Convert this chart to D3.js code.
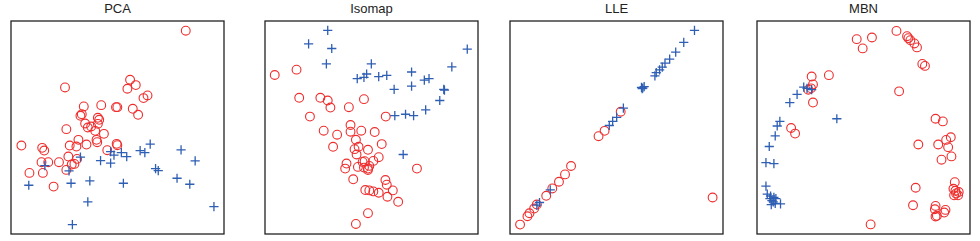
<!DOCTYPE html>
<html>
<head>
<meta charset="utf-8">
<script src="https://cdn.jsdelivr.net/npm/d3@7"></script>
<style>
  body { margin: 0; background: #fff; }
  svg { display: block; }
</style>
</head>
<body>
<div id="chart"></div>
<script>
// embedding coordinates, [x, y] per sample (arbitrary units)
const titles = ["PCA", "Isomap", "LLE", "MBN"];

const pcaCircle = [[55.4,62.7],[38.8,48.0],[38.0,45.3],[40.5,46.4],[19.4,45.7],[44.0,43.3],[42.8,42.5],[25.0,40.0],[30.2,40.4],[34.6,39.8],[35.0,39.8],[39.6,39.3],[41.2,37.5],[24.0,37.2],[24.4,37.7],[29.2,36.6],[29.6,36.0],[25.4,34.9],[26.2,33.7],[27.2,34.0],[29.2,34.8],[19.8,33.2],[28.4,32.7],[31.0,31.8],[23.4,30.0],[28.8,30.0],[29.0,29.3],[25.8,28.6],[20.8,28.3],[22.8,28.0],[6.4,28.3],[12.6,27.6],[13.2,26.8],[34.8,28.8],[35.0,28.4],[32.0,26.9],[20.4,25.0],[23.0,24.3],[22.2,22.8],[21.4,22.6],[17.6,23.3],[14.4,23.3],[12.4,23.3],[8.8,20.1],[12.8,20.1],[19.8,21.0],[16.0,16.0]];
const pcaPlus = [[44.8,28.7],[41.8,26.8],[43.2,26.2],[54.0,27.0],[58.2,23.7],[33.0,26.5],[36.2,26.2],[37.8,25.0],[34.0,25.4],[30.0,23.8],[33.0,23.0],[24.0,24.8],[13.4,22.3],[20.6,20.7],[46.4,21.4],[47.2,20.8],[52.8,18.5],[56.6,16.7],[21.2,17.0],[26.8,17.7],[36.8,17.0],[8.6,16.4],[26.2,11.4],[63.8,10.0],[21.6,4.6]];

const isoCircle = [[7.4,49.1],[13.9,50.7],[14.7,42.3],[21.0,42.3],[23.2,41.5],[24.0,39.4],[29.5,39.5],[34.0,41.9],[17.9,36.7],[40.5,36.7],[30.0,34.2],[30.0,32.2],[33.2,32.5],[37.2,32.1],[22.0,32.5],[26.0,31.3],[31.6,29.8],[39.3,28.5],[24.8,27.7],[31.2,27.0],[32.4,27.7],[31.8,25.4],[35.2,26.8],[38.4,24.6],[34.2,23.4],[33.6,23.2],[36.8,23.5],[28.8,22.7],[28.4,21.2],[32.2,21.7],[35.2,21.2],[35.6,22.0],[35.2,20.8],[34.0,21.5],[49.8,21.2],[30.8,18.0],[40.4,17.8],[40.8,16.4],[34.4,14.8],[35.6,14.7],[36.8,14.4],[38.4,14.0],[42.6,14.7],[41.0,12.8],[44.2,11.3],[35.2,7.9],[31.6,4.7]];
const isoPlus = [[23.2,62.4],[17.5,58.4],[24.4,57.0],[64.8,56.8],[22.8,52.4],[36.2,52.4],[60.2,51.5],[48.2,50.0],[34.8,49.4],[34.0,48.4],[32.0,48.0],[38.4,48.6],[40.8,49.0],[52.0,47.6],[53.4,48.0],[48.2,45.8],[43.0,44.8],[57.8,44.8],[58.0,44.6],[56.6,41.5],[52.4,38.7],[43.2,37.0],[46.4,37.4],[48.8,37.0],[45.7,25.4]];

const lleCircle = [[36.0,38.7],[31.2,33.0],[29.4,31.4],[21.2,22.5],[19.4,20.0],[17.6,17.8],[15.6,15.8],[13.8,13.6],[11.0,11.0],[10.2,9.8],[8.8,8.4],[8.2,7.5],[6.0,5.0],[63.4,13.1]];
const llePlus = [[58.0,63.0],[54.8,59.4],[52.4,56.5],[50.6,54.4],[49.2,53.2],[48.4,52.0],[47.6,51.2],[46.6,50.4],[46.2,49.4],[43.0,46.2],[42.6,45.8],[42.4,45.6],[42.2,46.0],[36.8,39.8],[34.8,37.0],[33.6,35.8],[32.6,34.6],[15.0,15.4],[11.8,11.6],[11.0,10.8]];

const mbnCircle = [[45.6,63.2],[33.6,60.7],[38.2,61.2],[35.4,57.9],[48.8,61.6],[49.2,61.0],[49.8,60.4],[51.0,59.4],[51.8,58.2],[53.4,53.2],[54.2,52.6],[20.0,49.4],[20.4,47.0],[19.0,45.4],[19.8,45.8],[25.2,49.8],[20.4,41.5],[46.4,44.9],[57.4,36.6],[59.6,35.8],[13.8,33.8],[15.0,32.1],[62.0,31.0],[60.6,30.2],[61.2,28.0],[58.2,28.8],[52.2,28.8],[62.2,25.2],[59.2,24.2],[63.2,17.4],[62.8,15.4],[63.4,14.8],[64.4,14.4],[63.6,14.0],[63.0,13.4],[64.2,13.4],[51.4,15.7],[50.6,10.4],[57.4,10.2],[57.2,9.2],[60.4,9.0],[60.0,8.2],[57.4,7.0],[57.8,7.2],[37.8,4.6]];
const mbnPlus = [[17.6,46.2],[18.6,45.8],[20.0,45.4],[15.6,44.0],[13.4,41.5],[10.4,35.8],[9.6,34.4],[9.0,31.4],[7.2,28.2],[6.2,23.3],[8.6,23.0],[27.6,36.6],[6.2,16.2],[6.6,13.8],[7.6,13.2],[8.6,12.8],[9.2,12.4],[8.0,11.8],[8.4,11.4],[7.8,10.6],[9.0,11.0],[10.6,10.8],[7.4,12.4]];

const circleSets = [pcaCircle, isoCircle, lleCircle, mbnCircle];
const plusSets = [pcaPlus, isoPlus, llePlus, mbnPlus];
// axis limits of each panel
const xDomains = [[3.3, 66.8], [4.5, 68.0], [3.0, 66.5], [3.5, 67.8]];
const yDomains = [[1.8, 65.6], [1.7, 65.2], [2.2, 65.8], [1.7, 66.2]];

const W = 980, H = 241;
const lefts = [11, 265, 510, 757];
const panelTop = 21, size = 213;
const red = "#ee2d2d", blue = "#2f5fb3";

const svg = d3.select("#chart").append("svg")
  .attr("width", W)
  .attr("height", H);

titles.forEach((t, i) => {
  const x = d3.scaleLinear().domain(xDomains[i]).range([0, size]);
  const y = d3.scaleLinear().domain(yDomains[i]).range([size, 0]);

  const g = svg.append("g")
    .attr("transform", "translate(" + lefts[i] + "," + panelTop + ")");

  g.append("text")
    .attr("x", size / 2)
    .attr("y", -8)
    .attr("text-anchor", "middle")
    .style("font-family", "'Liberation Sans', Arial, sans-serif")
    .style("font-size", "13px")
    .style("fill", "#222")
    .text(t);

  g.selectAll("circle")
    .data(circleSets[i])
    .enter()
    .append("circle")
      .attr("cx", d => x(d[0]))
      .attr("cy", d => y(d[1]))
      .attr("r", 4.4)
      .style("fill", "none")
      .style("stroke", red)
      .style("stroke-width", 1.1);

  const s = 4.6;
  g.selectAll("path.plus")
    .data(plusSets[i])
    .enter()
    .append("path")
      .attr("class", "plus")
      .attr("d", d => {
        const px = x(d[0]), py = y(d[1]);
        return "M" + (px - s) + "," + py + "H" + (px + s) + "M" + px + "," + (py - s) + "V" + (py + s);
      })
      .style("stroke", blue)
      .style("stroke-width", 1.3);

  g.append("rect")
    .attr("width", size)
    .attr("height", size)
    .style("fill", "none")
    .style("stroke", "#222")
    .style("stroke-width", 1.3);
});
</script>
</body>
</html>
